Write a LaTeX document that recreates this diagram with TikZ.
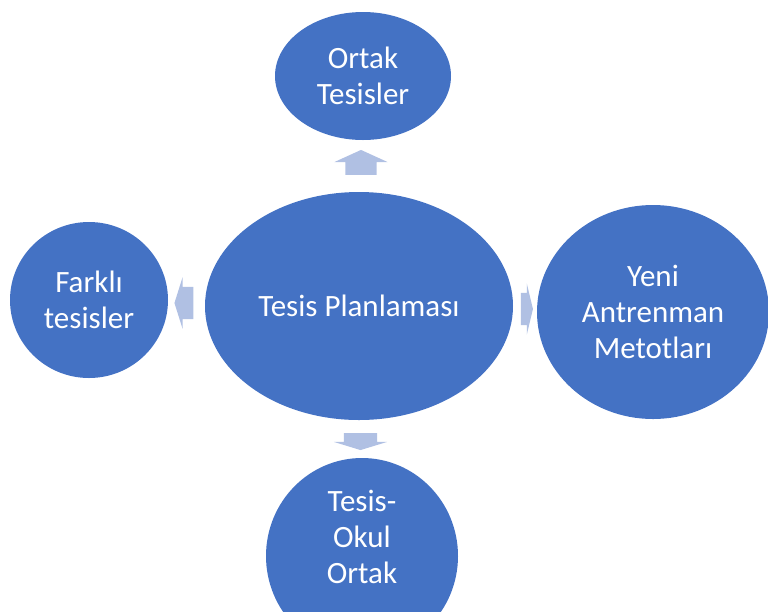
\documentclass[tikz,border=0pt]{standalone}
\usepackage{fontspec}
\setmainfont{Carlito}
\usepackage{tikz}
\usetikzlibrary{calc}
\usetikzlibrary{shapes.geometric, shapes.arrows}
\definecolor{bubbleblue}{RGB}{68,114,196}
\definecolor{arrowblue}{RGB}{176,192,227}
\tikzstyle{bubbletext} = [text=white,align=center,font=\fontsize{31}{36}\selectfont]
\tikzstyle{bubble} = [ellipse,fill=bubbleblue,inner sep=0pt,bubbletext]
\tikzstyle{blockarrow} = [single arrow,fill=arrowblue,inner xsep=0pt,single arrow head indent=0pt]

\begin{document}
\begin{tikzpicture}[x=1pt,y=-1pt]
	\clip (0,0) rectangle (768,611);
	\node[bubble,minimum width=308pt,minimum height=228pt] (plan) at (359,306) {Tesis Planlaması};
	\node[bubble,minimum width=176pt,minimum height=128pt] (ortak) at (363,76) {Ortak\\Tesisler};
	\node[bubble,minimum width=158pt,minimum height=156pt] (farkli) at (89,300) {Farklı\\tesisler};
	\node[bubble,minimum width=232pt,minimum height=214pt] (yeni) at (653,312) {Yeni\\Antrenman\\Metotları};
	\node[bubble,minimum width=192pt,minimum height=196pt] (okul) at (362,556) {};
	\node[bubbletext] (okul text) at ($(okul.center)+(0,-19)$) {Tesis-\\Okul\\Ortak};
	\node[blockarrow,rotate=90,inner ysep=15.5pt,single arrow head extend=11pt,minimum height=25pt,single arrow tip angle=131] (a1) at ($(plan.north)!0.5!(ortak.south)$) {};
	\node[blockarrow,rotate=180,inner ysep=16pt,single arrow head extend=9.5pt,minimum height=19pt,single arrow tip angle=145] (a2) at ($(plan.west)!0.5!(farkli.east)$) {};
	\node[blockarrow,inner ysep=16pt,single arrow head extend=9.5pt,minimum height=12pt,single arrow tip angle=153] (a3) at ($(plan.east)!0.5!(yeni.west)$) {};
	\node[blockarrow,rotate=-90,inner ysep=16.5pt,single arrow head extend=10pt,minimum height=17pt,single arrow tip angle=146] (a4) at ($(plan.south)!0.5!(okul.north)$) {};
\end{tikzpicture}
\end{document}
